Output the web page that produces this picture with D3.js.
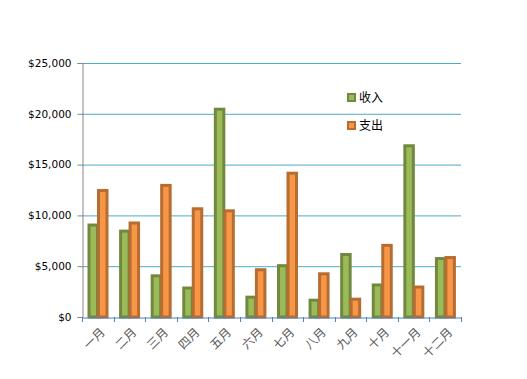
<!DOCTYPE html>
<html><head><meta charset="utf-8">
<script src="https://cdn.jsdelivr.net/npm/d3@7"></script>
<style>body{margin:0;background:#fff}svg{display:block}</style>
</head><body>
<script>
const months = ["一月","二月","三月","四月","五月","六月","七月","八月","九月","十月","十一月","十二月"];
const income = [9200,8600,4200,3000,20600,2100,5200,1800,6300,3300,17000,5900];
const expense = [12600,9400,13100,10800,10600,4800,14300,4400,1900,7200,3100,6000];
const seriesNames = ["收入","支出"];
const yTicks = [0,5000,10000,15000,20000,25000];

const W=527,H=379;
const svg=d3.select("body").append("svg").attr("width",W).attr("height",H);
const x0=82,x1=461,yTop=63,yBot=317;
const x=d3.scaleBand().domain(months).range([x0,x1]).paddingInner(0).paddingOuter(0);
const y=d3.scaleLinear().domain([0,25000]).range([yBot,yTop]);

// gridlines
svg.append("g").selectAll("line").data(yTicks.filter(d=>d>0)).join("line")
 .attr("x1",x0).attr("x2",x1).attr("y1",d=>y(d)+0.5).attr("y2",d=>y(d)+0.5)
 .attr("stroke","#4BACC6").attr("stroke-width",1);

// y axis
const ya=svg.append("g").attr("transform",`translate(${x0+0.5},0)`)
 .call(d3.axisLeft(y).tickValues(yTicks).tickSize(5).tickPadding(6).tickFormat(d=>"$"+d3.format(",")(d)));
ya.select(".domain").attr("stroke","#868686");
ya.selectAll(".tick line").attr("stroke","#868686");
ya.selectAll("text").attr("font-family","DejaVu Sans, Verdana, sans-serif").attr("font-size","10.5px").attr("fill","#000");

// bars
const series=[{name:seriesNames[0],vals:income,fill:"#9BBB59",stroke:"#71893F",off:7},
              {name:seriesNames[1],vals:expense,fill:"#F79646",stroke:"#B66D31",off:16.5}];
const bw=x.bandwidth();
series.forEach((s,i)=>{
  svg.append("g").selectAll("rect").data(months).join("rect")
   .attr("x",(m)=>x(m)+s.off)
   .attr("y",(m,j)=>y(s.vals[j])+1.5)
   .attr("width",8.5)
   .attr("height",(m,j)=>Math.max(0,yBot-y(s.vals[j])-1.5))
   .attr("fill",s.fill).attr("stroke",s.stroke).attr("stroke-width",3);
});

// x axis
const xa=svg.append("g").attr("transform",`translate(0,${yBot+0.5})`)
 .call(d3.axisBottom(x).tickSize(0).tickFormat(""));
xa.select(".domain").attr("stroke","#4F81BD");
const tickPos=months.map(m=>x(m)).concat([x1]);
svg.append("g").selectAll("line").data(tickPos).join("line")
 .attr("x1",d=>Math.round(d)+0.5).attr("x2",d=>Math.round(d)+0.5).attr("y1",yBot).attr("y2",yBot+5)
 .attr("stroke","#4F81BD");
svg.append("g").selectAll("text").data(months).join("text")
 .attr("transform",m=>`translate(${x(m)+bw/2+2},${yBot+10}) rotate(-45)`)
 .attr("text-anchor","end").attr("dy","0.7em")
 .attr("font-family","Noto Sans CJK SC, sans-serif").attr("font-size","12px").attr("fill","#595959")
 .text(d=>d);

// legend
const lg=svg.append("g");
series.forEach((s,i)=>{
  const ly=93+i*28;
  lg.append("rect").attr("x",348).attr("y",ly+1).attr("width",7).attr("height",7)
    .attr("fill",s.fill).attr("stroke",s.stroke).attr("stroke-width",2);
  lg.append("text").attr("x",359).attr("y",ly+4.5).attr("dy","0.35em")
    .attr("font-family","Noto Sans CJK SC, sans-serif").attr("font-size","12px").attr("fill","#000").text(s.name);
});
</script>
</body></html>
